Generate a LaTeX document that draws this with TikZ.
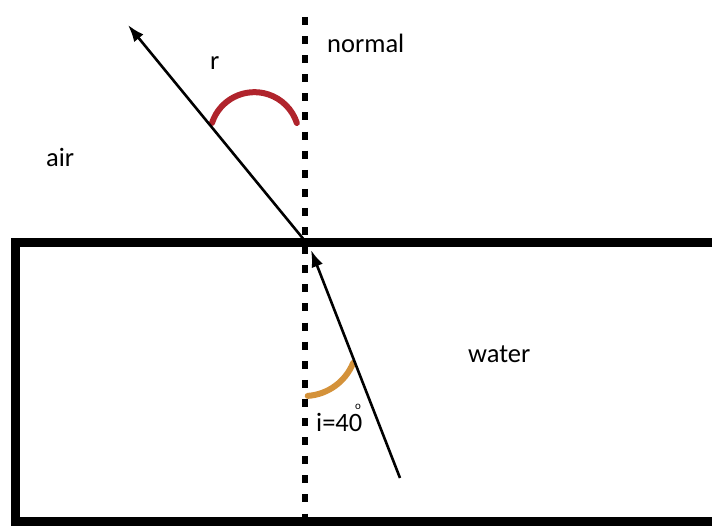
\documentclass[tikz,border=0pt]{standalone}
\usepackage{fontspec}
\setmainfont{Carlito}
\usetikzlibrary{arrows.meta}

\begin{document}
\begin{tikzpicture}[x=1pt, y=1pt, >={Latex[length=17pt,width=12pt]},
 font=\fontsize{26.5}{30}\selectfont,
 lbl/.style={anchor=base west, inner sep=0pt},
 ray/.style={draw, ->, line width=2.6pt},
 tank/.style={draw, line width=9pt},
 normalline/.style={draw, line width=6pt, dash pattern=on 8pt off 11.1pt},
 anglearc/.style={draw, line width=6pt, line cap=round}]
\clip (0,0) rectangle (712,529);
% points of the two rays
\coordinate (src) at (400,51);
\coordinate (hit) at (311,279);
\coordinate (pt) at (305,288);
\coordinate (out) at (128,504);
\coordinate (ntop) at (304.5,512);
\coordinate (nbot) at (304.5,0);
% water tank, open to the right
\draw[tank] (725,286) -- (15,286) -- (15,7) -- (725,7);
% normal
\draw[normalline] (ntop) -- (nbot);
% angles
\draw[anglearc, draw={rgb,255:red,176;green,36;blue,44}] (212,406) arc[start angle=162, end angle=18, radius=44.6];
\draw[anglearc, draw={rgb,255:red,212;green,146;blue,58}] (307.7,133.1) arc[start angle=-86, end angle=-22, radius=53];
% rays
\draw[ray] (src) -- (hit);
\draw[ray] (pt) -- (out);
% labels
\node[lbl] (nlab) at (327,476) {normal};
\node[lbl] (rlab) at (210,459) {r};
\node[lbl] (air) at (46,362) {air};
\node[lbl] (water) at (468,166) {water};
\node[lbl] (ilab) at (316,97) {i=40};
\node[lbl, font=\fontsize{11}{12}\selectfont] (deg) at (355,119) {o};
\end{tikzpicture}
\end{document}
